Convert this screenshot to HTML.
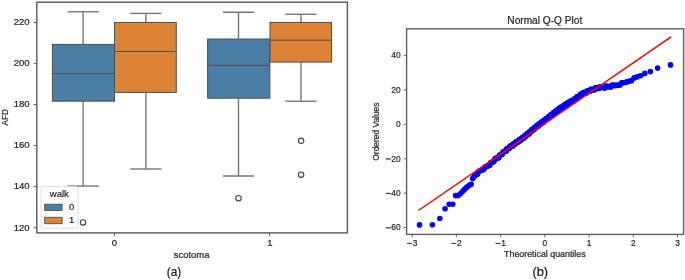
<!DOCTYPE html>
<html><head><meta charset="utf-8"><title>Boxplot and Normal Q-Q Plot</title>
<style>
html,body{margin:0;padding:0;background:#fff;}
body{width:685px;height:280px;overflow:hidden;position:relative;font-family:"Liberation Sans", sans-serif;}
</style></head><body>
<svg width="685" height="280" viewBox="0 0 685 280" style="position:absolute;left:0;top:0;will-change:transform"><rect x="0" y="0" width="685" height="280" fill="#fff"/><line x1="83.1" y1="11.8" x2="83.1" y2="44.4" stroke="#767676" stroke-width="1.4"/><line x1="83.1" y1="101.2" x2="83.1" y2="186.1" stroke="#767676" stroke-width="1.4"/><line x1="67.6" y1="11.8" x2="98.9" y2="11.8" stroke="#767676" stroke-width="1.4"/><line x1="67.6" y1="186.1" x2="98.9" y2="186.1" stroke="#767676" stroke-width="1.4"/><line x1="145.9" y1="13.4" x2="145.9" y2="22.4" stroke="#767676" stroke-width="1.4"/><line x1="145.9" y1="92.4" x2="145.9" y2="169.0" stroke="#767676" stroke-width="1.4"/><line x1="130.2" y1="13.4" x2="161.5" y2="13.4" stroke="#767676" stroke-width="1.4"/><line x1="130.2" y1="169.0" x2="161.5" y2="169.0" stroke="#767676" stroke-width="1.4"/><line x1="238.5" y1="12.2" x2="238.5" y2="39.0" stroke="#767676" stroke-width="1.4"/><line x1="238.5" y1="98.2" x2="238.5" y2="176.0" stroke="#767676" stroke-width="1.4"/><line x1="222.9" y1="12.2" x2="254.2" y2="12.2" stroke="#767676" stroke-width="1.4"/><line x1="222.9" y1="176.0" x2="254.2" y2="176.0" stroke="#767676" stroke-width="1.4"/><line x1="301.0" y1="14.3" x2="301.0" y2="22.4" stroke="#767676" stroke-width="1.4"/><line x1="301.0" y1="62.1" x2="301.0" y2="101.2" stroke="#767676" stroke-width="1.4"/><line x1="285.3" y1="14.3" x2="316.6" y2="14.3" stroke="#767676" stroke-width="1.4"/><line x1="285.3" y1="101.2" x2="316.6" y2="101.2" stroke="#767676" stroke-width="1.4"/><rect x="52.4" y="44.4" width="62.10" height="56.80" fill="#4a7ea5" stroke="#505050" stroke-width="1.0"/><line x1="52.4" y1="73.6" x2="114.5" y2="73.6" stroke="#505050" stroke-width="1.0"/><rect x="114.5" y="22.4" width="61.80" height="70.00" fill="#dc8338" stroke="#505050" stroke-width="1.0"/><line x1="114.5" y1="51.4" x2="176.3" y2="51.4" stroke="#505050" stroke-width="1.0"/><rect x="207.6" y="39.0" width="62.30" height="59.20" fill="#4a7ea5" stroke="#505050" stroke-width="1.0"/><line x1="207.6" y1="65.4" x2="269.9" y2="65.4" stroke="#505050" stroke-width="1.0"/><rect x="270.0" y="22.4" width="61.50" height="39.70" fill="#dc8338" stroke="#505050" stroke-width="1.0"/><line x1="270.0" y1="40.2" x2="331.5" y2="40.2" stroke="#505050" stroke-width="1.0"/><circle cx="83.0" cy="222.45" r="2.7" fill="none" stroke="#444444" stroke-width="1.1"/><circle cx="238.5" cy="198.2" r="2.7" fill="none" stroke="#444444" stroke-width="1.1"/><circle cx="301.1" cy="140.8" r="2.7" fill="none" stroke="#444444" stroke-width="1.1"/><circle cx="301.1" cy="174.7" r="2.7" fill="none" stroke="#444444" stroke-width="1.1"/><rect x="41.2" y="186.6" width="36.8" height="41.6" rx="2" fill="#fff" fill-opacity="0.8" stroke="#d6d6d6" stroke-width="0.8"/><rect x="44.7" y="204.2" width="17.4" height="6.3" fill="#4a7ea5" stroke="#505050" stroke-width="0.9"/><rect x="44.7" y="217.3" width="17.4" height="6.4" fill="#dc8338" stroke="#505050" stroke-width="0.9"/><rect x="36.8" y="2.2" width="310.60" height="230.70" fill="none" stroke="#5e5e5e" stroke-width="1.45"/><line x1="33.50" y1="227.70" x2="36.8" y2="227.70" stroke="#5e5e5e" stroke-width="1"/><line x1="33.50" y1="186.67" x2="36.8" y2="186.67" stroke="#5e5e5e" stroke-width="1"/><line x1="33.50" y1="145.64" x2="36.8" y2="145.64" stroke="#5e5e5e" stroke-width="1"/><line x1="33.50" y1="104.60" x2="36.8" y2="104.60" stroke="#5e5e5e" stroke-width="1"/><line x1="33.50" y1="63.57" x2="36.8" y2="63.57" stroke="#5e5e5e" stroke-width="1"/><line x1="33.50" y1="22.54" x2="36.8" y2="22.54" stroke="#5e5e5e" stroke-width="1"/><line x1="114.5" y1="232.9" x2="114.5" y2="236.20" stroke="#5e5e5e" stroke-width="1"/><line x1="269.5" y1="232.9" x2="269.5" y2="236.20" stroke="#5e5e5e" stroke-width="1"/><g fill="#0000ff"><circle cx="419.50" cy="224.90" r="2.8"/><circle cx="432.40" cy="224.80" r="2.8"/><circle cx="439.80" cy="218.50" r="2.8"/><circle cx="445.10" cy="208.80" r="2.8"/><circle cx="449.20" cy="204.25" r="2.8"/><circle cx="452.70" cy="204.25" r="2.8"/><circle cx="455.60" cy="195.60" r="2.8"/><circle cx="458.20" cy="195.40" r="2.8"/><circle cx="460.60" cy="193.60" r="2.8"/><circle cx="462.70" cy="191.30" r="2.8"/><circle cx="464.60" cy="189.30" r="2.8"/><circle cx="466.40" cy="187.60" r="2.8"/><circle cx="468.10" cy="186.20" r="2.8"/><circle cx="469.70" cy="185.00" r="2.8"/><circle cx="471.20" cy="184.30" r="2.8"/><circle cx="472.60" cy="178.60" r="2.8"/><circle cx="473.90" cy="176.80" r="2.8"/><circle cx="475.20" cy="175.20" r="2.8"/><circle cx="476.46" cy="174.60" r="2.8"/><circle cx="477.63" cy="173.94" r="2.8"/><circle cx="478.76" cy="171.37" r="2.8"/><circle cx="479.84" cy="170.78" r="2.8"/><circle cx="480.89" cy="170.36" r="2.8"/><circle cx="481.90" cy="169.99" r="2.8"/><circle cx="482.89" cy="169.65" r="2.8"/><circle cx="483.84" cy="169.32" r="2.8"/><circle cx="484.76" cy="167.06" r="2.8"/><circle cx="485.66" cy="166.73" r="2.8"/><circle cx="486.53" cy="166.40" r="2.8"/><circle cx="487.39" cy="166.08" r="2.8"/><circle cx="488.22" cy="165.78" r="2.8"/><circle cx="489.03" cy="165.50" r="2.8"/><circle cx="489.82" cy="165.23" r="2.8"/><circle cx="490.60" cy="162.91" r="2.8"/><circle cx="491.36" cy="162.53" r="2.8"/><circle cx="492.10" cy="162.16" r="2.8"/><circle cx="492.83" cy="161.80" r="2.8"/><circle cx="493.55" cy="161.46" r="2.8"/><circle cx="494.25" cy="161.12" r="2.8"/><circle cx="494.94" cy="158.85" r="2.8"/><circle cx="495.62" cy="158.59" r="2.8"/><circle cx="496.29" cy="158.34" r="2.8"/><circle cx="496.94" cy="158.11" r="2.8"/><circle cx="497.59" cy="157.88" r="2.8"/><circle cx="498.22" cy="157.66" r="2.8"/><circle cx="498.85" cy="157.44" r="2.8"/><circle cx="499.47" cy="155.29" r="2.8"/><circle cx="500.08" cy="155.08" r="2.8"/><circle cx="500.68" cy="154.83" r="2.8"/><circle cx="501.27" cy="154.58" r="2.8"/><circle cx="501.85" cy="154.35" r="2.8"/><circle cx="502.43" cy="154.12" r="2.8"/><circle cx="503.00" cy="151.94" r="2.8"/><circle cx="503.56" cy="151.72" r="2.8"/><circle cx="504.12" cy="151.51" r="2.8"/><circle cx="504.67" cy="151.31" r="2.8"/><circle cx="505.21" cy="151.13" r="2.8"/><circle cx="505.75" cy="151.00" r="2.8"/><circle cx="506.28" cy="150.88" r="2.8"/><circle cx="506.81" cy="148.80" r="2.8"/><circle cx="507.33" cy="148.69" r="2.8"/><circle cx="507.84" cy="148.57" r="2.8"/><circle cx="508.36" cy="148.47" r="2.8"/><circle cx="508.86" cy="148.36" r="2.8"/><circle cx="509.36" cy="148.26" r="2.8"/><circle cx="509.86" cy="146.21" r="2.8"/><circle cx="510.35" cy="146.15" r="2.8"/><circle cx="510.84" cy="146.09" r="2.8"/><circle cx="511.33" cy="146.05" r="2.8"/><circle cx="511.81" cy="146.00" r="2.8"/><circle cx="512.28" cy="145.96" r="2.8"/><circle cx="512.75" cy="145.92" r="2.8"/><circle cx="513.22" cy="143.93" r="2.8"/><circle cx="513.69" cy="143.89" r="2.8"/><circle cx="514.15" cy="143.86" r="2.8"/><circle cx="514.61" cy="143.83" r="2.8"/><circle cx="515.07" cy="143.81" r="2.8"/><circle cx="515.52" cy="143.80" r="2.8"/><circle cx="515.97" cy="141.84" r="2.8"/><circle cx="516.41" cy="141.84" r="2.8"/><circle cx="516.86" cy="141.84" r="2.8"/><circle cx="517.30" cy="141.84" r="2.8"/><circle cx="517.74" cy="141.84" r="2.8"/><circle cx="518.17" cy="141.84" r="2.8"/><circle cx="518.60" cy="141.85" r="2.8"/><circle cx="519.03" cy="139.91" r="2.8"/><circle cx="519.46" cy="139.92" r="2.8"/><circle cx="519.89" cy="139.93" r="2.8"/><circle cx="520.31" cy="139.92" r="2.8"/><circle cx="520.73" cy="139.91" r="2.8"/><circle cx="521.15" cy="139.90" r="2.8"/><circle cx="521.57" cy="137.94" r="2.8"/><circle cx="521.98" cy="137.93" r="2.8"/><circle cx="522.39" cy="137.93" r="2.8"/><circle cx="522.80" cy="137.92" r="2.8"/><circle cx="523.21" cy="137.92" r="2.8"/><circle cx="523.62" cy="137.92" r="2.8"/><circle cx="524.03" cy="137.92" r="2.8"/><circle cx="524.43" cy="135.97" r="2.8"/><circle cx="524.83" cy="135.98" r="2.8"/><circle cx="525.23" cy="135.95" r="2.8"/><circle cx="525.63" cy="135.91" r="2.8"/><circle cx="526.03" cy="135.87" r="2.8"/><circle cx="526.42" cy="135.83" r="2.8"/><circle cx="526.81" cy="133.84" r="2.8"/><circle cx="527.21" cy="133.80" r="2.8"/><circle cx="527.60" cy="133.77" r="2.8"/><circle cx="527.99" cy="133.73" r="2.8"/><circle cx="528.38" cy="133.70" r="2.8"/><circle cx="528.76" cy="133.66" r="2.8"/><circle cx="529.15" cy="133.63" r="2.8"/><circle cx="529.53" cy="131.65" r="2.8"/><circle cx="529.92" cy="131.62" r="2.8"/><circle cx="530.30" cy="131.60" r="2.8"/><circle cx="530.68" cy="131.58" r="2.8"/><circle cx="531.06" cy="131.56" r="2.8"/><circle cx="531.44" cy="131.54" r="2.8"/><circle cx="531.82" cy="129.57" r="2.8"/><circle cx="532.20" cy="129.55" r="2.8"/><circle cx="532.57" cy="129.54" r="2.8"/><circle cx="532.95" cy="129.52" r="2.8"/><circle cx="533.32" cy="129.51" r="2.8"/><circle cx="533.70" cy="129.49" r="2.8"/><circle cx="534.07" cy="129.48" r="2.8"/><circle cx="534.44" cy="127.52" r="2.8"/><circle cx="534.82" cy="127.51" r="2.8"/><circle cx="535.19" cy="127.51" r="2.8"/><circle cx="535.56" cy="127.52" r="2.8"/><circle cx="535.93" cy="127.53" r="2.8"/><circle cx="536.29" cy="127.54" r="2.8"/><circle cx="536.66" cy="125.60" r="2.8"/><circle cx="537.03" cy="125.62" r="2.8"/><circle cx="537.40" cy="125.63" r="2.8"/><circle cx="537.76" cy="125.64" r="2.8"/><circle cx="538.13" cy="125.66" r="2.8"/><circle cx="538.50" cy="125.67" r="2.8"/><circle cx="538.86" cy="125.69" r="2.8"/><circle cx="539.23" cy="123.75" r="2.8"/><circle cx="539.59" cy="123.77" r="2.8"/><circle cx="539.96" cy="123.78" r="2.8"/><circle cx="540.32" cy="123.81" r="2.8"/><circle cx="540.68" cy="123.84" r="2.8"/><circle cx="541.05" cy="123.88" r="2.8"/><circle cx="541.41" cy="121.96" r="2.8"/><circle cx="541.77" cy="121.99" r="2.8"/><circle cx="542.13" cy="122.02" r="2.8"/><circle cx="542.50" cy="122.05" r="2.8"/><circle cx="542.86" cy="122.08" r="2.8"/><circle cx="543.22" cy="122.12" r="2.8"/><circle cx="543.58" cy="122.15" r="2.8"/><circle cx="543.95" cy="120.23" r="2.8"/><circle cx="544.31" cy="120.26" r="2.8"/><circle cx="544.67" cy="120.29" r="2.8"/><circle cx="545.03" cy="120.33" r="2.8"/><circle cx="545.39" cy="120.34" r="2.8"/><circle cx="545.75" cy="120.36" r="2.8"/><circle cx="546.12" cy="118.43" r="2.8"/><circle cx="546.48" cy="118.45" r="2.8"/><circle cx="546.84" cy="118.46" r="2.8"/><circle cx="547.20" cy="118.48" r="2.8"/><circle cx="547.57" cy="118.50" r="2.8"/><circle cx="547.93" cy="118.52" r="2.8"/><circle cx="548.29" cy="118.53" r="2.8"/><circle cx="548.65" cy="116.60" r="2.8"/><circle cx="549.02" cy="116.62" r="2.8"/><circle cx="549.38" cy="116.63" r="2.8"/><circle cx="549.74" cy="116.65" r="2.8"/><circle cx="550.11" cy="116.66" r="2.8"/><circle cx="550.47" cy="116.67" r="2.8"/><circle cx="550.84" cy="114.73" r="2.8"/><circle cx="551.20" cy="114.74" r="2.8"/><circle cx="551.57" cy="114.74" r="2.8"/><circle cx="551.94" cy="114.75" r="2.8"/><circle cx="552.30" cy="114.76" r="2.8"/><circle cx="552.67" cy="114.76" r="2.8"/><circle cx="553.04" cy="114.77" r="2.8"/><circle cx="553.41" cy="112.83" r="2.8"/><circle cx="553.77" cy="112.83" r="2.8"/><circle cx="554.14" cy="112.83" r="2.8"/><circle cx="554.51" cy="112.84" r="2.8"/><circle cx="554.88" cy="112.84" r="2.8"/><circle cx="555.26" cy="112.86" r="2.8"/><circle cx="555.63" cy="110.93" r="2.8"/><circle cx="556.00" cy="110.96" r="2.8"/><circle cx="556.38" cy="110.98" r="2.8"/><circle cx="556.75" cy="111.00" r="2.8"/><circle cx="557.13" cy="111.03" r="2.8"/><circle cx="557.50" cy="111.05" r="2.8"/><circle cx="557.88" cy="111.07" r="2.8"/><circle cx="558.26" cy="109.14" r="2.8"/><circle cx="558.64" cy="109.16" r="2.8"/><circle cx="559.02" cy="109.18" r="2.8"/><circle cx="559.40" cy="109.19" r="2.8"/><circle cx="559.78" cy="109.21" r="2.8"/><circle cx="560.17" cy="109.24" r="2.8"/><circle cx="560.55" cy="107.34" r="2.8"/><circle cx="560.94" cy="107.38" r="2.8"/><circle cx="561.32" cy="107.43" r="2.8"/><circle cx="561.71" cy="107.48" r="2.8"/><circle cx="562.10" cy="107.52" r="2.8"/><circle cx="562.49" cy="107.56" r="2.8"/><circle cx="562.89" cy="107.60" r="2.8"/><circle cx="563.28" cy="105.70" r="2.8"/><circle cx="563.67" cy="105.74" r="2.8"/><circle cx="564.07" cy="105.77" r="2.8"/><circle cx="564.47" cy="105.81" r="2.8"/><circle cx="564.87" cy="105.85" r="2.8"/><circle cx="565.27" cy="105.89" r="2.8"/><circle cx="565.67" cy="103.97" r="2.8"/><circle cx="566.08" cy="104.00" r="2.8"/><circle cx="566.49" cy="104.04" r="2.8"/><circle cx="566.90" cy="104.07" r="2.8"/><circle cx="567.31" cy="104.12" r="2.8"/><circle cx="567.72" cy="104.19" r="2.8"/><circle cx="568.13" cy="104.25" r="2.8"/><circle cx="568.55" cy="102.36" r="2.8"/><circle cx="568.97" cy="102.42" r="2.8"/><circle cx="569.39" cy="102.48" r="2.8"/><circle cx="569.81" cy="102.53" r="2.8"/><circle cx="570.24" cy="102.59" r="2.8"/><circle cx="570.67" cy="102.64" r="2.8"/><circle cx="571.10" cy="100.74" r="2.8"/><circle cx="571.53" cy="100.80" r="2.8"/><circle cx="571.96" cy="100.85" r="2.8"/><circle cx="572.40" cy="100.89" r="2.8"/><circle cx="572.84" cy="100.94" r="2.8"/><circle cx="573.29" cy="100.99" r="2.8"/><circle cx="573.73" cy="101.03" r="2.8"/><circle cx="574.18" cy="99.12" r="2.8"/><circle cx="574.63" cy="99.16" r="2.8"/><circle cx="575.09" cy="99.17" r="2.8"/><circle cx="575.55" cy="99.09" r="2.8"/><circle cx="576.01" cy="99.00" r="2.8"/><circle cx="576.48" cy="98.91" r="2.8"/><circle cx="576.95" cy="96.87" r="2.8"/><circle cx="577.42" cy="96.77" r="2.8"/><circle cx="577.89" cy="96.67" r="2.8"/><circle cx="578.37" cy="96.57" r="2.8"/><circle cx="578.86" cy="96.46" r="2.8"/><circle cx="579.35" cy="96.35" r="2.8"/><circle cx="579.84" cy="96.23" r="2.8"/><circle cx="580.34" cy="94.27" r="2.8"/><circle cx="580.84" cy="94.31" r="2.8"/><circle cx="581.34" cy="94.35" r="2.8"/><circle cx="581.86" cy="94.38" r="2.8"/><circle cx="582.37" cy="94.42" r="2.8"/><circle cx="582.89" cy="94.45" r="2.8"/><circle cx="583.42" cy="92.52" r="2.8"/><circle cx="583.95" cy="92.55" r="2.8"/><circle cx="584.49" cy="92.57" r="2.8"/><circle cx="585.03" cy="92.59" r="2.8"/><circle cx="585.58" cy="92.66" r="2.8"/><circle cx="586.14" cy="92.73" r="2.8"/><circle cx="586.70" cy="92.79" r="2.8"/><circle cx="587.27" cy="90.90" r="2.8"/><circle cx="587.85" cy="90.96" r="2.8"/><circle cx="588.43" cy="91.02" r="2.8"/><circle cx="589.02" cy="91.09" r="2.8"/><circle cx="589.62" cy="91.17" r="2.8"/><circle cx="590.23" cy="91.25" r="2.8"/><circle cx="590.85" cy="89.37" r="2.8"/><circle cx="591.48" cy="89.44" r="2.8"/><circle cx="592.11" cy="89.50" r="2.8"/><circle cx="592.76" cy="89.57" r="2.8"/><circle cx="593.41" cy="89.62" r="2.8"/><circle cx="594.08" cy="89.68" r="2.8"/><circle cx="594.76" cy="89.73" r="2.8"/><circle cx="595.45" cy="87.82" r="2.8"/><circle cx="596.15" cy="87.86" r="2.8"/><circle cx="596.87" cy="87.90" r="2.8"/><circle cx="597.60" cy="88.08" r="2.8"/><circle cx="598.34" cy="88.28" r="2.8"/><circle cx="599.10" cy="88.49" r="2.8"/><circle cx="599.88" cy="86.74" r="2.8"/><circle cx="600.67" cy="86.94" r="2.8"/><circle cx="601.48" cy="87.14" r="2.8"/><circle cx="602.31" cy="87.34" r="2.8"/><circle cx="603.17" cy="87.53" r="2.8"/><circle cx="604.04" cy="87.72" r="2.8"/><circle cx="604.94" cy="87.91" r="2.8"/><circle cx="605.86" cy="86.13" r="2.8"/><circle cx="606.81" cy="86.30" r="2.8"/><circle cx="607.80" cy="86.46" r="2.8"/><circle cx="608.81" cy="86.62" r="2.8"/><circle cx="609.86" cy="86.77" r="2.8"/><circle cx="610.94" cy="86.92" r="2.8"/><circle cx="612.07" cy="85.11" r="2.8"/><circle cx="613.24" cy="85.25" r="2.8"/><circle cx="614.46" cy="85.38" r="2.8"/><circle cx="615.74" cy="85.38" r="2.8"/><circle cx="617.08" cy="85.28" r="2.8"/><circle cx="618.49" cy="85.15" r="2.8"/><circle cx="619.98" cy="85.01" r="2.8"/><circle cx="621.56" cy="82.88" r="2.8"/><circle cx="623.24" cy="82.68" r="2.8"/><circle cx="625.05" cy="82.43" r="2.8"/><circle cx="627.00" cy="81.91" r="2.8"/><circle cx="629.12" cy="81.32" r="2.8"/><circle cx="631.46" cy="80.64" r="2.8"/><circle cx="634.07" cy="77.89" r="2.8"/><circle cx="637.04" cy="76.88" r="2.8"/><circle cx="640.48" cy="75.70" r="2.8"/><circle cx="644.80" cy="73.40" r="2.8"/><circle cx="650.40" cy="71.60" r="2.8"/><circle cx="657.60" cy="68.10" r="2.8"/><circle cx="670.50" cy="64.90" r="2.8"/></g><line x1="418.4" y1="210.5" x2="671.0" y2="36.9" stroke="#ff0000" stroke-width="1.5"/><rect x="406.6" y="28.8" width="277.00" height="205.60" fill="none" stroke="#5e5e5e" stroke-width="1.4"/><line x1="403.60" y1="55.50" x2="406.6" y2="55.50" stroke="#5e5e5e" stroke-width="0.9"/><line x1="403.60" y1="89.90" x2="406.6" y2="89.90" stroke="#5e5e5e" stroke-width="0.9"/><line x1="403.60" y1="124.30" x2="406.6" y2="124.30" stroke="#5e5e5e" stroke-width="0.9"/><line x1="403.60" y1="158.70" x2="406.6" y2="158.70" stroke="#5e5e5e" stroke-width="0.9"/><line x1="403.60" y1="193.10" x2="406.6" y2="193.10" stroke="#5e5e5e" stroke-width="0.9"/><line x1="403.60" y1="227.50" x2="406.6" y2="227.50" stroke="#5e5e5e" stroke-width="0.9"/><line x1="412.19" y1="234.4" x2="412.19" y2="237.40" stroke="#5e5e5e" stroke-width="0.9"/><line x1="456.41" y1="234.4" x2="456.41" y2="237.40" stroke="#5e5e5e" stroke-width="0.9"/><line x1="500.63" y1="234.4" x2="500.63" y2="237.40" stroke="#5e5e5e" stroke-width="0.9"/><line x1="544.85" y1="234.4" x2="544.85" y2="237.40" stroke="#5e5e5e" stroke-width="0.9"/><line x1="589.07" y1="234.4" x2="589.07" y2="237.40" stroke="#5e5e5e" stroke-width="0.9"/><line x1="633.29" y1="234.4" x2="633.29" y2="237.40" stroke="#5e5e5e" stroke-width="0.9"/><line x1="677.51" y1="234.4" x2="677.51" y2="237.40" stroke="#5e5e5e" stroke-width="0.9"/><g font-family='"Liberation Sans", sans-serif' fill="#262626" stroke="#262626" stroke-width="0.22"><text transform="translate(29.60 230.50)" font-size="9.5" text-anchor="end">120</text><text transform="translate(29.60 189.47)" font-size="9.5" text-anchor="end">140</text><text transform="translate(29.60 148.44)" font-size="9.5" text-anchor="end">160</text><text transform="translate(29.60 107.40)" font-size="9.5" text-anchor="end">180</text><text transform="translate(29.60 66.37)" font-size="9.5" text-anchor="end">200</text><text transform="translate(29.60 25.34)" font-size="9.5" text-anchor="end">220</text><text transform="translate(114.45 246.00)" font-size="9.5" text-anchor="middle">0</text><text transform="translate(269.95 246.00)" font-size="9.5" text-anchor="middle">1</text><text transform="translate(191.60 257.90) scale(1.016 1)" font-size="9.3" text-anchor="middle">scotoma</text><text transform="translate(7.50 117.35) rotate(-90) scale(0.925 1)" font-size="8.7" text-anchor="middle">AFD</text><text transform="translate(59.35 197.00) scale(1.010 1)" font-size="9.4" text-anchor="middle">walk</text><text transform="translate(71.60 210.20)" font-size="9.5" text-anchor="middle">0</text><text transform="translate(71.60 223.30)" font-size="9.5" text-anchor="middle">1</text><text transform="translate(174.05 276.00) scale(0.950 1)" font-size="12.4" text-anchor="middle" fill="#111">(a)</text><text transform="translate(540.25 276.00) scale(1.030 1)" font-size="12.4" text-anchor="middle" fill="#111">(b)</text><text transform="translate(544.80 23.80) scale(0.975 1)" font-size="10.4" text-anchor="middle">Normal Q-Q Plot</text><text transform="translate(400.60 58.45)" font-size="8.4" text-anchor="end">40</text><text transform="translate(400.60 92.85)" font-size="8.4" text-anchor="end">20</text><text transform="translate(400.60 127.25)" font-size="8.4" text-anchor="end">0</text><text transform="translate(400.60 161.65)" font-size="8.4" text-anchor="end">20</text><rect x="386.00" y="158.57" width="4.80" height="0.85" fill="#262626"/><text transform="translate(400.60 196.05)" font-size="8.4" text-anchor="end">40</text><rect x="386.00" y="192.97" width="4.80" height="0.85" fill="#262626"/><text transform="translate(400.60 230.45)" font-size="8.4" text-anchor="end">60</text><rect x="386.00" y="227.38" width="4.80" height="0.85" fill="#262626"/><rect x="407.18" y="243.03" width="4.90" height="0.85" fill="#262626"/><text transform="translate(415.19 245.80)" font-size="8.4" text-anchor="middle">3</text><rect x="451.40" y="243.03" width="4.90" height="0.85" fill="#262626"/><text transform="translate(459.41 245.80)" font-size="8.4" text-anchor="middle">2</text><rect x="495.62" y="243.03" width="4.90" height="0.85" fill="#262626"/><text transform="translate(503.63 245.80)" font-size="8.4" text-anchor="middle">1</text><text transform="translate(544.85 245.80)" font-size="8.4" text-anchor="middle">0</text><text transform="translate(589.07 245.80)" font-size="8.4" text-anchor="middle">1</text><text transform="translate(633.29 245.80)" font-size="8.4" text-anchor="middle">2</text><text transform="translate(677.51 245.80)" font-size="8.4" text-anchor="middle">3</text><text transform="translate(544.85 256.70) scale(1.028 1)" font-size="8.6" text-anchor="middle">Theoretical quantiles</text><text transform="translate(379.30 131.60) rotate(-90) scale(0.990 1)" font-size="8.5" text-anchor="middle">Ordered Values</text></g></svg>
</body></html>
